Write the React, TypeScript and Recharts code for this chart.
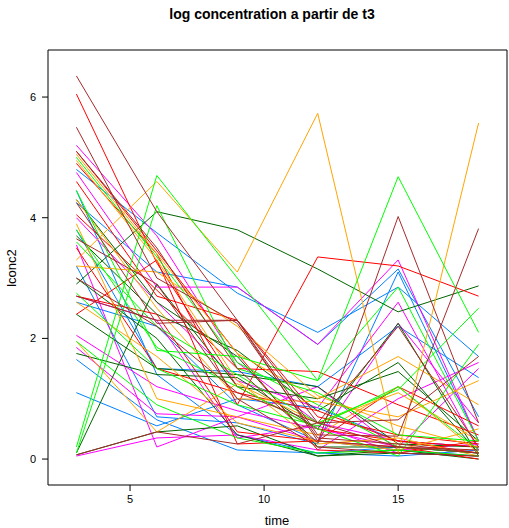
import * as React from "react"
import { Line, LineChart, XAxis, YAxis } from "recharts"

// measurement times (x) and one row per subject: lconc2 at each time
const times = [3, 6, 9, 12, 15, 18]

const blueSubjects = [
  [4.8, 3.75, 2.75, 2.1, 2.85, 1.7],
  [4.25, 3.1, 2.85, 1.9, 3.15, 0.7],
  [3.8, 1.5, 1.45, 1.2, 2.2, 1.35],
  [3.2, 0.7, 0.6, 0.25, 3.1, 0.3],
  [2.6, 2.2, 0.9, 0.3, 0.15, 0.05],
  [1.65, 0.65, 0.15, 0.1, 0.2, 0.1],
  [1.1, 0.55, 1.0, 0.85, 0.3, 0.2],
  [4.45, 1.4, 0.4, 0.1, 0.05, 0.15],
]
const magentaSubjects = [
  [5.2, 3.7, 1.6, 0.6, 0.3, 0.2],
  [4.75, 2.85, 2.85, 1.9, 3.3, 0.3],
  [3.55, 0.2, 0.7, 0.3, 2.25, 0.6],
  [2.05, 1.2, 0.8, 0.5, 0.2, 1.5],
  [0.05, 0.35, 0.4, 0.15, 1.0, 1.6],
  [2.7, 2.3, 0.35, 0.55, 0.1, 0.05],
  [1.85, 0.75, 0.7, 1.2, 0.15, 0.25],
  [4.0, 2.6, 1.3, 0.85, 2.6, 0.15],
]
const darkgreenSubjects = [
  [2.9, 4.1, 3.8, 3.15, 2.44, 2.87],
  [0.07, 0.45, 0.55, 0.05, 0.1, 0.05],
  [3.7, 2.4, 1.8, 0.8, 1.6, 0.1],
  [2.4, 1.5, 1.4, 1.2, 0.25, 0.2],
  [1.75, 1.4, 1.35, 0.5, 2.25, 0.05],
  [4.3, 2.6, 1.7, 0.2, 0.2, 0.1],
  [3.0, 2.0, 0.4, 0.05, 0.15, 0.0],
  [0.1, 2.9, 1.2, 1.0, 1.45, 0.3],
]
const redSubjects = [
  [6.05, 3.25, 1.2, 0.5, 0.3, 0.2],
  [4.9, 3.4, 0.9, 3.35, 3.2, 2.7],
  [4.6, 2.7, 2.3, 0.7, 0.4, 0.25],
  [4.05, 2.8, 1.5, 1.45, 0.9, 0.4],
  [3.5, 1.5, 1.1, 0.8, 0.3, 0.1],
  [2.7, 2.4, 0.45, 0.3, 0.2, 0.0],
  [5.1, 3.45, 1.75, 0.15, 0.1, 0.3],
  [2.4, 3.3, 0.25, 0.3, 1.2, 0.55],
]
const orangeSubjects = [
  [3.3, 4.6, 3.1, 5.73, 0.1, 5.57],
  [5.05, 3.4, 1.75, 1.0, 1.7, 0.9],
  [4.3, 2.5, 1.0, 0.95, 0.7, 1.3],
  [3.9, 1.0, 0.7, 0.4, 1.2, 0.1],
  [2.6, 1.7, 0.6, 0.3, 0.15, 0.5],
  [1.95, 0.45, 1.25, 0.6, 1.1, 0.3],
  [4.95, 3.3, 1.3, 0.25, 0.35, 0.05],
  [3.2, 3.1, 2.2, 1.05, 0.55, 0.2],
]
const greenSubjects = [
  [0.2, 4.7, 3.0, 1.3, 4.68, 2.1],
  [5.0, 3.35, 1.6, 0.9, 0.2, 0.1],
  [4.45, 1.8, 1.7, 1.3, 2.85, 0.3],
  [3.8, 1.85, 1.2, 0.5, 0.05, 1.9],
  [0.1, 4.2, 1.5, 1.1, 0.4, 0.3],
  [2.75, 1.5, 0.9, 0.55, 1.2, 0.15],
  [1.95, 0.9, 0.35, 0.1, 0.15, 0.05],
  [3.6, 2.2, 1.4, 0.6, 1.15, 2.5],
]
const brownSubjects = [
  [6.35, 4.1, 2.3, 0.6, 0.2, 0.15],
  [5.5, 3.0, 2.25, 0.35, 0.25, 0.1],
  [5.1, 3.5, 1.5, 0.27, 4.02, 0.6],
  [4.25, 2.25, 2.3, 0.4, 0.38, 3.82],
  [3.65, 2.9, 1.0, 0.2, 0.1, 0.05],
  [2.7, 2.3, 2.3, 0.3, 0.2, 0.1],
  [0.07, 0.45, 0.25, 0.6, 2.2, 0.2],
  [3.0, 2.2, 1.1, 0.6, 0.65, 1.7],
]

const xTicks = [5, 10, 15]
const yTicks = [0, 2, 4, 6]

// lattice superpose.line colours
const groups = [
  { color: "#0080ff", rows: blueSubjects },
  { color: "#ff00ff", rows: magentaSubjects },
  { color: "#006400", rows: darkgreenSubjects },
  { color: "#ff0000", rows: redSubjects },
  { color: "#ffa500", rows: orangeSubjects },
  { color: "#00ff00", rows: greenSubjects },
  { color: "#a52a2a", rows: brownSubjects },
]

const series = groups.flatMap((g, gi) =>
  g.rows.map((vals, i) => ({ key: `s${gi}_${i}`, color: g.color, vals }))
)

const data = times.map((t, ti) => {
  const row: Record<string, number> = { time: t }
  series.forEach((s) => {
    row[s.key] = s.vals[ti]
  })
  return row
})

const font = "'Liberation Sans', Arial, sans-serif"
const tickStyle = { fontSize: 11, fill: "#000", fontFamily: font }
const xDomain = [1.94, 19.06]
const yDomain = [-0.43, 6.78]

export default function App() {
  return (
    <div style={{ position: "absolute", left: 0, top: 0, width: 509, height: 528, background: "#fff" }}>
      <LineChart
        width={509}
        height={528}
        data={data}
        margin={{ top: 49, right: 1, bottom: 0, left: 0 }}
        style={{ position: "absolute", left: 0, top: 0 }}
      >
        <XAxis
          xAxisId="b"
          dataKey="time"
          type="number"
          domain={xDomain}
          ticks={xTicks}
          allowDataOverflow
          height={43}
          tickSize={6}
          tickMargin={4}
          tick={tickStyle}
          stroke="#000"
        />
        {/* top and right axes only close the box and carry unlabeled ticks */}
        <XAxis
          xAxisId="t"
          dataKey="time"
          type="number"
          orientation="top"
          domain={xDomain}
          ticks={xTicks}
          allowDataOverflow
          height={1}
          tickSize={6}
          tick={false}
          tickLine
          stroke="#000"
        />
        <YAxis
          yAxisId="l"
          type="number"
          domain={yDomain}
          ticks={yTicks}
          allowDataOverflow
          width={48}
          tickSize={6}
          tickMargin={6}
          tick={tickStyle}
          stroke="#000"
        />
        <YAxis
          yAxisId="r"
          type="number"
          orientation="right"
          domain={yDomain}
          ticks={yTicks}
          allowDataOverflow
          width={1}
          tickSize={6}
          tick={false}
          tickLine
          stroke="#000"
        />
        {series.map((s) => (
          <Line
            key={s.key}
            xAxisId="b"
            yAxisId="l"
            dataKey={s.key}
            stroke={s.color}
            strokeWidth={1}
            dot={false}
            type="linear"
            isAnimationActive={false}
          />
        ))}
      </LineChart>
      <svg
        width={509}
        height={528}
        style={{ position: "absolute", left: 0, top: 0, pointerEvents: "none" }}
        fontFamily={font}
      >
        <text x={272} y={19} textAnchor="middle" fontSize={14} fontWeight="bold">
          log concentration a partir de t3
        </text>
        <text x={277} y={525} textAnchor="middle" fontSize={13}>
          time
        </text>
        <text x={16} y={268} textAnchor="middle" fontSize={13} transform="rotate(-90 16 268)">
          lconc2
        </text>
      </svg>
    </div>
  )
}
